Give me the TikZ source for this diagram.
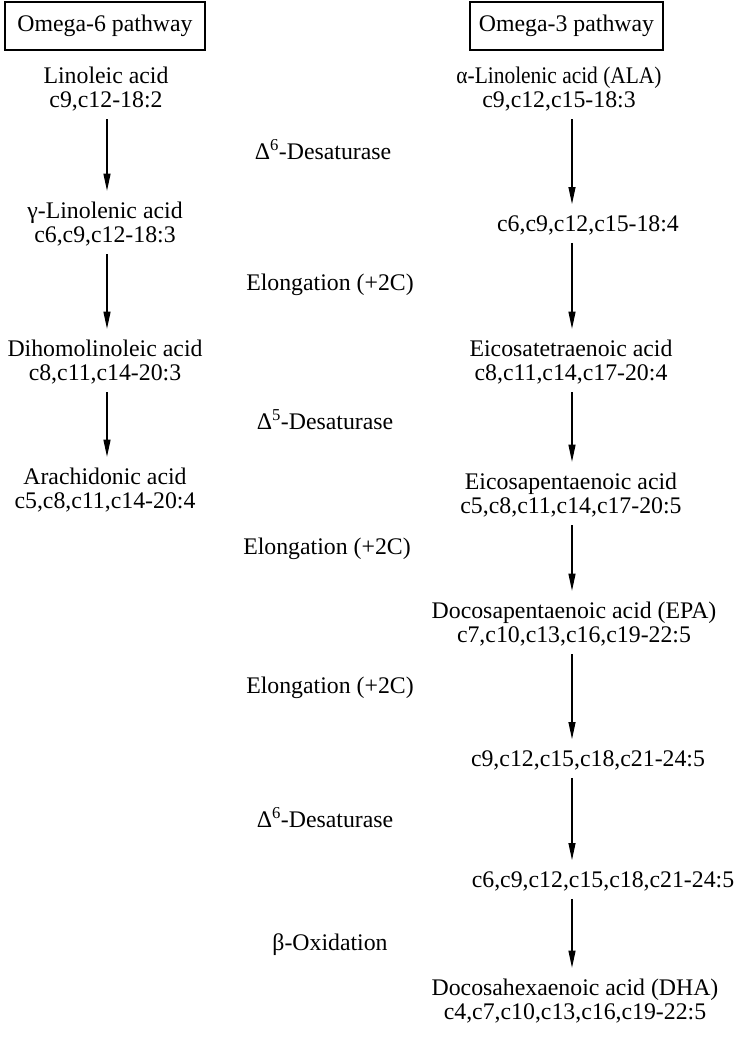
\documentclass[tikz,border=0pt]{standalone}
\usepackage{fontspec}
\usepackage{graphicx}
\setmainfont{Liberation Serif}
\usetikzlibrary{positioning, arrows.meta}

\begin{document}
\begin{tikzpicture}[
  x=1pt, y=-1pt,
  font=\fontsize{23.8}{24}\selectfont,
  pathbox/.style={draw, line width=1.1pt, inner sep=0pt, minimum height=48pt},
  acid/.style={align=center, inner sep=0pt},
  enzyme/.style={inner sep=0pt},
  flow/.style={-{Triangle[length=17pt, width=7pt]}, line width=1.1pt,
               shorten <=8pt, shorten >=11pt}
]
  \useasboundingbox (0,0) rectangle (737,1042);
  \coordinate (colL) at (107,0);
  \coordinate (colR) at (572,0);

  % pathway headers
  \node[pathbox, minimum width=200pt] (h6) at (105,26) {Omega-6 pathway};
  \node[pathbox, minimum width=193pt] (h3) at (566.5,26) {Omega-3 pathway};

  % omega-6 column
  \node[acid] (la)  at (106,89)  {Linoleic acid\\c9,c12-18:2};
  \node[acid] (gla) at (105,224) {γ-Linolenic acid\\c6,c9,c12-18:3};
  \node[acid] (dgla) at (105,362) {Dihomolinoleic acid\\c8,c11,c14-20:3};
  \node[acid] (aa)  at (105,490) {Arachidonic acid\\c5,c8,c11,c14-20:4};

  % omega-3 column
  \node[acid] (ala) at (559,89)  {\scalebox{0.9}[1]{α-Linolenic acid (ALA)}\\c9,c12,c15-18:3};
  \node[acid] (sda) at (588,225) {c6,c9,c12,c15-18:4};
  \node[acid] (eta) at (571,362) {Eicosatetraenoic acid\\c8,c11,c14,c17-20:4};
  \node[acid] (epa) at (571,495) {Eicosapentaenoic acid\\c5,c8,c11,c14,c17-20:5};
  \node[acid] (dpa) at (574,624) {Docosapentaenoic acid (EPA)\\c7,c10,c13,c16,c19-22:5};
  \node[acid] (tpa) at (588,760) {c9,c12,c15,c18,c21-24:5};
  \node[acid] (tha) at (603,881) {c6,c9,c12,c15,c18,c21-24:5};
  \node[acid] (dha) at (575,1001) {Docosahexaenoic acid (DHA)\\c4,c7,c10,c13,c16,c19-22:5};

  % enzyme steps
  \node[enzyme] (d6a) at (323,150) {Δ\textsuperscript{6}-Desaturase};
  \node[enzyme] (el1) at (330,285) {Elongation (+2C)};
  \node[enzyme] (d5)  at (325,420) {Δ\textsuperscript{5}-Desaturase};
  \node[enzyme] (el2) at (327,549) {Elongation (+2C)};
  \node[enzyme] (el3) at (330,688) {Elongation (+2C)};
  \node[enzyme] (d6b) at (325,818) {Δ\textsuperscript{6}-Desaturase};
  \node[enzyme] (box) at (330,945) {β-Oxidation};

  % arrows
  \foreach \a/\b in {la/gla, gla/dgla, dgla/aa}
    \draw[flow] (\a.south -| colL) -- (\b.north -| colL);
  \foreach \a/\b in {ala/sda, sda/eta, eta/epa, epa/dpa, dpa/tpa, tpa/tha, tha/dha}
    \draw[flow] (\a.south -| colR) -- (\b.north -| colR);
\end{tikzpicture}
\end{document}
